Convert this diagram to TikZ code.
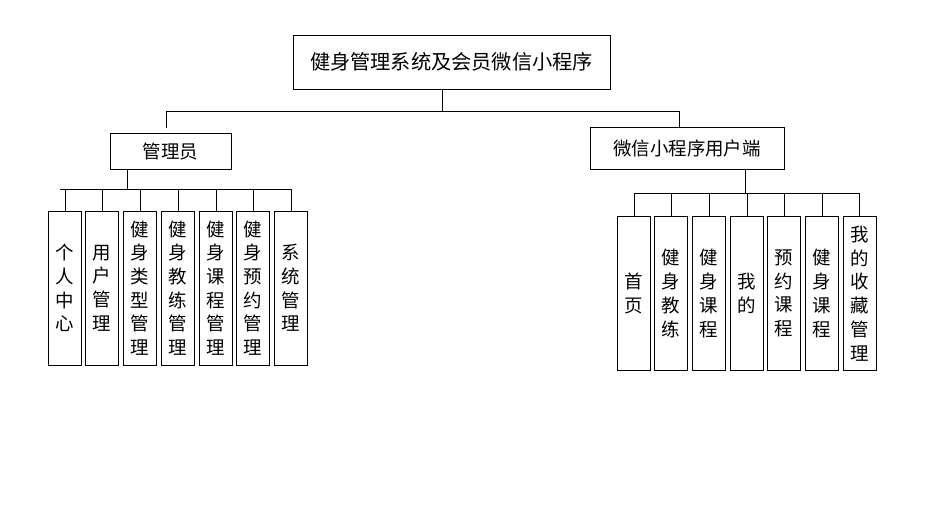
\documentclass[tikz,border=0pt]{standalone}
\usepackage{fontspec}
\setmainfont{Noto Sans CJK SC}
\usetikzlibrary{positioning}
\begin{document}
\begin{tikzpicture}[
    x=0.02cm, y=-0.02cm,
    box/.style={
        rectangle,
        draw=black,
        line width=0.5pt,
        font=\fontsize{10.5}{12}\selectfont,
        inner sep=2pt
    },
    leaf/.style={
        box,
        minimum width=0.66cm,
        minimum height=3.08cm,
        text width=0.5cm,
        align=center,
        font=\fontsize{10.5}{13.5}\selectfont
    },
    link/.style={draw=black, line width=0.5pt}
]
    \useasboundingbox (0,0) rectangle (929,505);

    % Layer 1: system
    \node[box, minimum width=6.34cm, minimum height=1.08cm, font=\fontsize{11.5}{13}\selectfont] (root) at (451.5,62) {健身管理系统及会员微信小程序};

    % Layer 2: admin and mini program
    \node[box, minimum width=2.42cm, minimum height=0.72cm] (admin) at (170.5,151) {管理员};
    \node[box, minimum width=3.88cm, minimum height=0.84cm] (wx) at (687,148) {微信小程序用户端};

    \coordinate (top) at (442,111);
    \draw[link] (root.south -| top) -- (top);
    \draw[link] (166,111) -- (679,111);
    \draw[link] (166,111) -- (166,128);
    \draw[link] (679,111) -- (wx.north -| 679,0);

    % Layer 3: admin modules
    \coordinate (abus) at (127,189);
    \draw[link] (admin.south -| abus) -- (abus);
    \draw[link] (60,189) -- (291,189);
    \foreach \name/\x/\txt in {a1/65/个\\人\\中\\心, a2/102/用\\户\\管\\理, a3/140/健\\身\\类\\型\\管\\理,
        a4/178/健\\身\\教\\练\\管\\理, a5/216/健\\身\\课\\程\\管\\理, a6/253/健\\身\\预\\约\\管\\理,
        a7/291/系\\统\\管\\理} {
        \node[leaf] (\name) at (\x,288) {\txt};
        \draw[link] (\name.north) -- (\name.north |- abus);
    }

    % Layer 3: user modules
    \coordinate (wbus) at (745,193);
    \draw[link] (wx.south -| wbus) -- (wbus);
    \draw[link] (634,193) -- (859.5,193);
    \foreach \name/\x/\txt in {w1/634/首\\页, w2/671/健\\身\\教\\练, w3/709/健\\身\\课\\程,
        w4/747/我\\的, w5/784/预\\约\\课\\程, w6/822/健\\身\\课\\程,
        w7/859.5/我\\的\\收\\藏\\管\\理} {
        \node[leaf] (\name) at (\x,293.5) {\txt};
        \draw[link] (\name.north) -- (\name.north |- wbus);
    }
\end{tikzpicture}
\end{document}
